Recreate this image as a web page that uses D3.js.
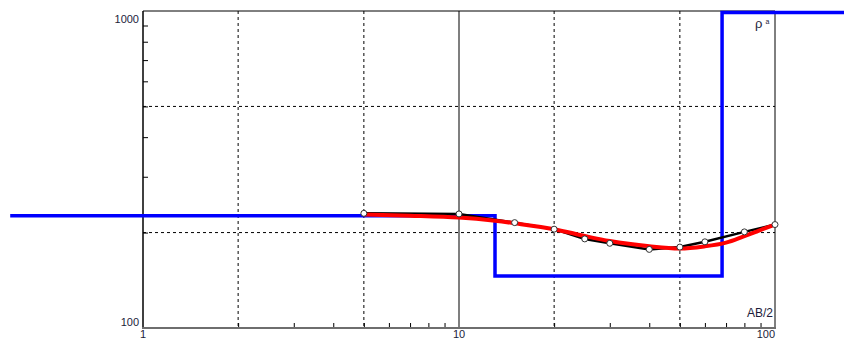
<!DOCTYPE html>
<html>
<head>
<meta charset="utf-8">
<script src="https://cdn.jsdelivr.net/npm/d3@7"></script>
<style>
  body { margin: 0; background: #fff; }
  svg text { font-family: "Liberation Sans", Arial, sans-serif; fill: #1c1c3a; }
</style>
</head>
<body>
<svg id="chart" width="844" height="340"></svg>
<script>
var width = 844, height = 340;

// observed apparent resistivity (AB/2, rho_a)
var obsAB = [5, 10, 15, 20, 25, 30, 40, 50, 60, 80, 100];
var obsRho = [230, 229, 215, 205, 191, 185, 177, 180, 187, 201, 212];

// computed curve for the model
var calcAB = [5, 7, 10, 13, 15, 20, 25, 30, 40, 50, 60, 70, 80, 100];
var calcRho = [228, 226, 223, 218, 214, 205, 195, 188, 181, 178, 181, 186, 195, 212];

// layered model: boundaries and resistivities
var modelDepth = [0.38, 13, 68, 166];
var modelRho = [226, 146, 990];

var xTicks = [1, 10, 100];
var yTicks = [100, 1000];
var xGrid = [2, 5, 20, 50];
var yGrid = [200, 500];
var xMinor = [2, 3, 4, 5, 6, 7, 8, 9, 20, 30, 40, 50, 60, 70, 80, 90];
var yMinor = [200, 300, 400, 500, 600, 700, 800, 900];

var x = d3.scaleLog().domain([1, 100]).range([143, 775]);
var y = d3.scaleLog().domain([100, 1000]).range([328, 11]);

var svg = d3.select("#chart");

// dashed grid
svg.selectAll(".vgrid")
        .data(xGrid)
        .enter().append("line")
        .attr("x1", function (d) { return x(d); })
        .attr("x2", function (d) { return x(d); })
        .attr("y1", y(1000)).attr("y2", y(100))
        .attr("stroke", "#000").attr("stroke-width", 1)
        .attr("stroke-dasharray", "3,3");

svg.selectAll(".hgrid")
        .data(yGrid)
        .enter().append("line")
        .attr("x1", x(1)).attr("x2", x(100))
        .attr("y1", function (d) { return y(d); })
        .attr("y2", function (d) { return y(d); })
        .attr("stroke", "#000").attr("stroke-width", 1)
        .attr("stroke-dasharray", "3,3");

// solid decade line
svg.append("line")
        .attr("x1", x(10)).attr("x2", x(10))
        .attr("y1", y(1000)).attr("y2", y(100))
        .attr("stroke", "#555").attr("stroke-width", 1.5);

// minor ticks, pointing inward
svg.append("g")
        .attr("transform", "translate(0," + y(100) + ")")
        .call(d3.axisBottom(x).tickValues(xMinor).tickSize(-5).tickFormat(""))
        .call(function (g) { g.select(".domain").remove(); })
        .selectAll("line").attr("stroke", "#000");

svg.append("g")
        .attr("transform", "translate(" + x(1) + ",0)")
        .call(d3.axisLeft(y).tickValues(yMinor).tickSize(-5).tickFormat(""))
        .call(function (g) { g.select(".domain").remove(); })
        .selectAll("line").attr("stroke", "#000");

// frame
svg.append("line")
        .attr("x1", x(1)).attr("x2", x(100))
        .attr("y1", y(1000)).attr("y2", y(1000))
        .attr("stroke", "#000").attr("stroke-width", 1);
svg.append("line")
        .attr("x1", x(100)).attr("x2", x(100))
        .attr("y1", y(1000)).attr("y2", y(100))
        .attr("stroke", "#000").attr("stroke-width", 1);
svg.append("line")
        .attr("x1", x(1)).attr("x2", x(1))
        .attr("y1", y(1000)).attr("y2", y(100))
        .attr("stroke", "#000").attr("stroke-width", 1.5);
svg.append("line")
        .attr("x1", x(1) - 1).attr("x2", x(100) + 1)
        .attr("y1", y(100)).attr("y2", y(100))
        .attr("stroke", "#6e6e6e").attr("stroke-width", 2);

// layered model (step line)
var modelPts = [];
modelRho.forEach(function (r, i) {
        modelPts.push([modelDepth[i], r]);
        modelPts.push([modelDepth[i + 1], r]);
});
svg.append("path")
        .datum(modelPts)
        .attr("fill", "none")
        .attr("stroke", "#0000ff")
        .attr("stroke-width", 3.5)
        .attr("d", d3.line()
                .x(function (d) { return x(d[0]); })
                .y(function (d) { return y(d[1]); }));

// observed curve
var obs = obsAB.map(function (d, i) { return [d, obsRho[i]]; });
svg.append("path")
        .datum(obs)
        .attr("fill", "none")
        .attr("stroke", "#000")
        .attr("stroke-width", 2.5)
        .attr("d", d3.line()
                .x(function (d) { return x(d[0]); })
                .y(function (d) { return y(d[1]); }));

// computed curve
var calc = calcAB.map(function (d, i) { return [d, calcRho[i]]; });
svg.append("path")
        .datum(calc)
        .attr("fill", "none")
        .attr("stroke", "#ff0000")
        .attr("stroke-width", 4)
        .attr("stroke-linejoin", "round")
        .attr("d", d3.line()
                .curve(d3.curveCatmullRom.alpha(0.5))
                .x(function (d) { return x(d[0]); })
                .y(function (d) { return y(d[1]); }));

// observed points
svg.selectAll(".pt")
        .data(obs)
        .enter().append("circle")
        .attr("class", "pt")
        .attr("cx", function (d) { return x(d[0]); })
        .attr("cy", function (d) { return y(d[1]); })
        .attr("r", 3)
        .attr("fill", "#fff")
        .attr("stroke", "#333")
        .attr("stroke-width", 1);

// tick labels
svg.selectAll(".xlab")
        .data(xTicks)
        .enter().append("text")
        .attr("x", function (d) { return x(d); })
        .attr("y", 338)
        .attr("text-anchor", function (d) { return d === 100 ? "end" : "middle"; })
        .style("font-size", "11px")
        .text(function (d) { return d; });

svg.selectAll(".ylab")
        .data(yTicks)
        .enter().append("text")
        .attr("x", x(1) - 4)
        .attr("y", function (d) { return d === 1000 ? y(d) + 12 : y(d) - 2; })
        .attr("text-anchor", "end")
        .style("font-size", "11px")
        .text(function (d) { return d; });

// axis names
svg.append("text")
        .attr("x", x(100) - 2)
        .attr("y", y(100) - 11)
        .attr("text-anchor", "end")
        .style("font-size", "12px")
        .text("AB/2");

var rho = svg.append("text")
        .attr("x", 755)
        .attr("y", 28)
        .style("font-size", "13px");
rho.append("tspan").text("ρ");
rho.append("tspan").attr("dx", 3).attr("dy", -4).style("font-size", "7px").text("a");
</script>
</body>
</html>
